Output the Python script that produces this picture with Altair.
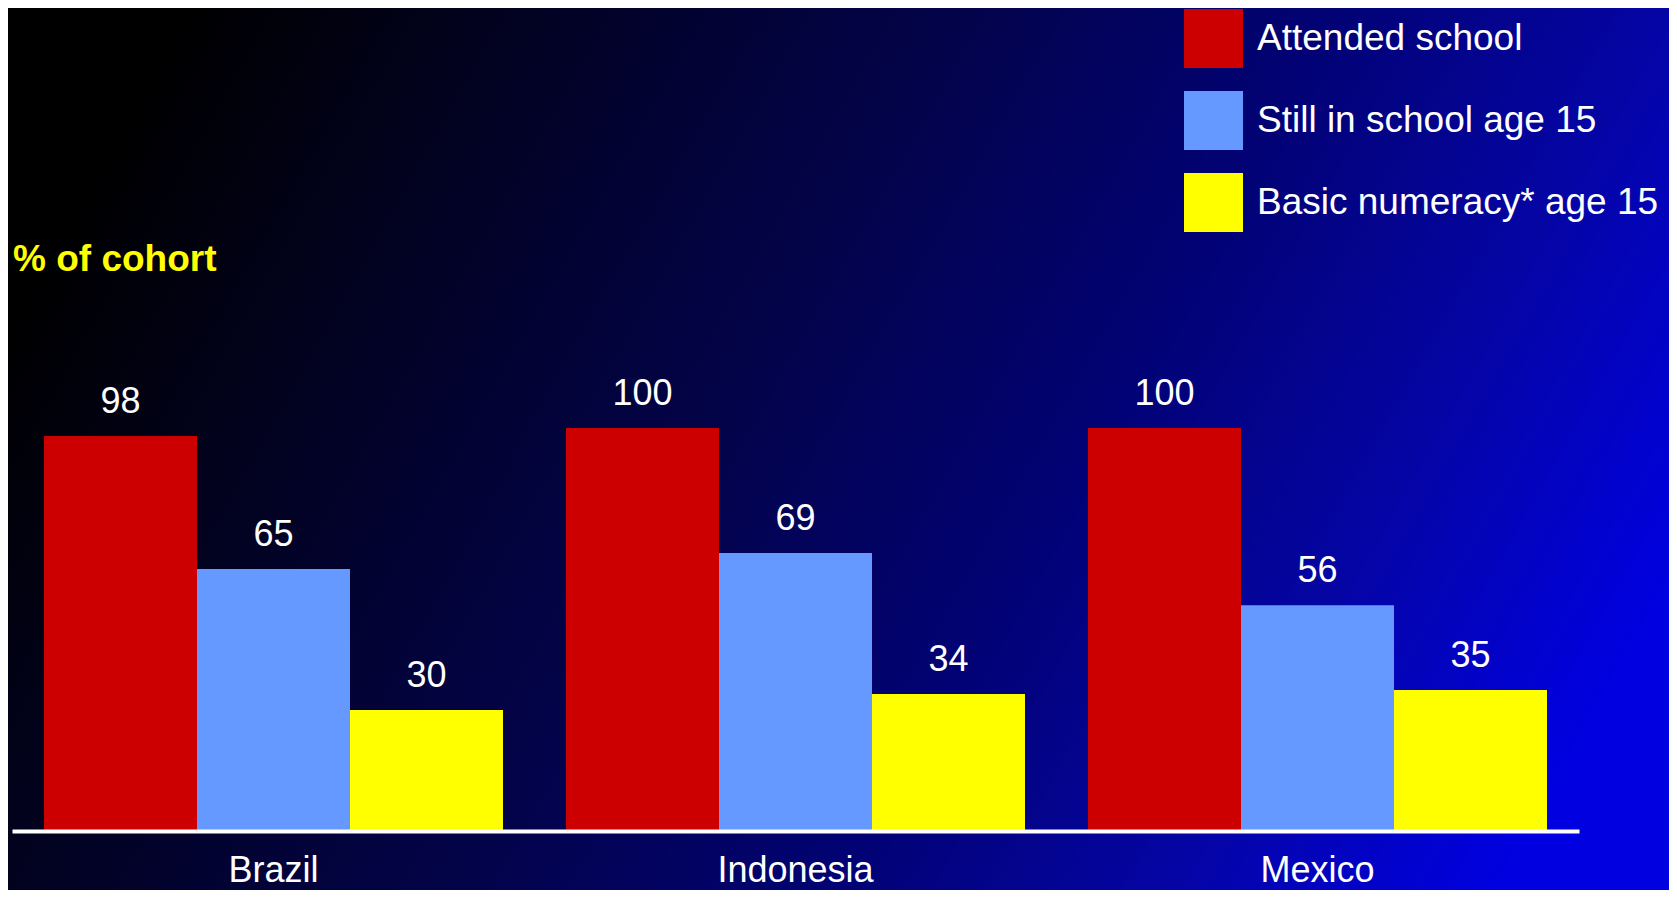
import altair as alt
import pandas as pd

countries = ["Brazil", "Indonesia", "Mexico"]
series = ["Attended school", "Still in school age 15", "Basic numeracy* age 15"]
attended = [98, 100, 100]
still_in_school = [65, 69, 56]
numeracy = [30, 34, 35]
colors = ["#CC0000", "#6699FF", "#FFFF00"]

rows = []
for s, vals in zip(series, [attended, still_in_school, numeracy]):
    for c, v in zip(countries, vals):
        rows.append({"country": c, "series": s, "value": v})
df = pd.DataFrame(rows)

FONT = "Liberation Sans"
W, H = 1567, 403
PAD = {"left": 4, "top": 420, "right": 90, "bottom": 59}

xscale = alt.Scale(paddingInner=0.1207, paddingOuter=0.0613)
offscale = alt.Scale(paddingInner=0, paddingOuter=0)
yscale = alt.Scale(domain=[0, 100], nice=False, zero=True)

bg = alt.Chart(pd.DataFrame({"bg": [0]})).mark_rect(
    color=alt.LinearGradient(
        gradient="linear",
        x1=0, y1=0.35, x2=1, y2=0.65,
        stops=[
            alt.GradientStop(color="#000000", offset=0),
            alt.GradientStop(color="#020220", offset=0.18),
            alt.GradientStop(color="#03034c", offset=0.44),
            alt.GradientStop(color="#020278", offset=0.65),
            alt.GradientStop(color="#0505a5", offset=0.82),
            alt.GradientStop(color="#0000e0", offset=1.0),
        ],
    )
).encode(
    x=alt.value(-4), x2=alt.value(W + 90),
    y=alt.value(-420), y2=alt.value(H + 59),
)

bars = alt.Chart(df).mark_bar().encode(
    x=alt.X("country:N", sort=countries, scale=xscale,
            axis=alt.Axis(title=None, labelAngle=0, labelFontSize=36, labelColor="white",
                          labelFont=FONT, ticks=False, domainColor="white", domainWidth=4,
                          labelPadding=22, grid=False, zindex=1)),
    xOffset=alt.XOffset("series:N", sort=series, scale=offscale),
    y=alt.Y("value:Q", scale=yscale, axis=None),
    color=alt.Color("series:N", sort=series,
                    scale=alt.Scale(domain=series, range=colors),
                    legend=alt.Legend(title=None, orient="none", legendX=1172, legendY=-419,
                                      symbolType="square", symbolSize=3481, symbolStrokeWidth=0,
                                      labelFontSize=37, labelColor="white", labelFont=FONT,
                                      labelOffset=14, rowPadding=23, padding=0, labelLimit=0,
                                      zindex=1)),
)

labels = alt.Chart(df).mark_text(
    dy=-23, baseline="alphabetic", align="center", fontSize=36, color="white", font=FONT
).encode(
    x=alt.X("country:N", sort=countries, scale=xscale),
    xOffset=alt.XOffset("series:N", sort=series, scale=offscale),
    y=alt.Y("value:Q", scale=yscale),
    text=alt.Text("value:Q"),
)

ytitle = alt.Chart(pd.DataFrame({"t": ["% of cohort"]})).mark_text(
    align="left", baseline="alphabetic", fontSize=37, fontWeight="bold",
    color="#FFFF00", font=FONT
).encode(
    x=alt.value(1), y=alt.value(-157), text="t:N"
)

chart = alt.layer(bg, bars, labels, ytitle).properties(
    width=W, height=H, padding=PAD,
    autosize=alt.AutoSizeParams(type="none"),
).configure_view(stroke=None).configure(background="#000000")

chart.save("out.html", embed_options={"renderer": "svg", "actions": False})
